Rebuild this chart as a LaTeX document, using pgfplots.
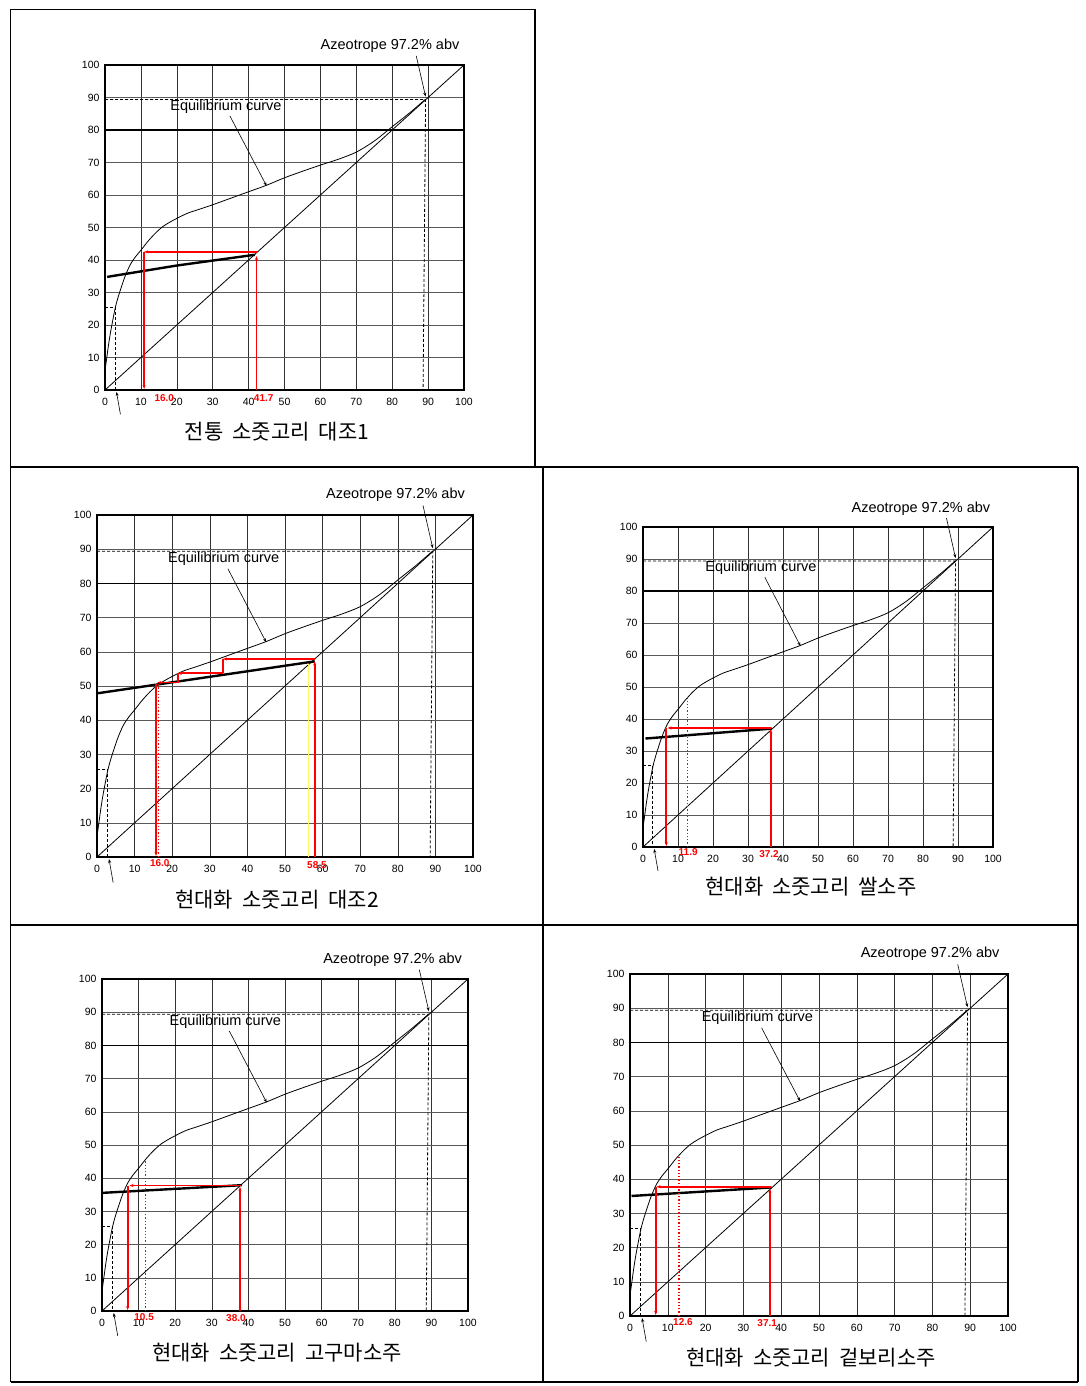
\documentclass[border=0pt]{standalone}
\usepackage{pgfplots}
\pgfplotsset{compat=1.18}
\usetikzlibrary{arrows.meta}
\usepackage{fontspec}
\setmainfont{Liberation Sans}
\newfontfamily\kr{Noto Sans CJK KR}

\tikzset{
  redl/.style={red, line width=1.8pt},
  redd/.style={red, line width=1.3pt, dotted},
  arr/.style={-{Stealth[length=4pt,width=3pt]}},
}
\pgfplotsset{
  mccabe/.style={
    scale only axis, anchor=south west,
    xmin=0, xmax=100, ymin=0, ymax=100,
    xtick={0,10,...,100}, ytick={0,10,...,100},
    xmajorgrids, ymajorgrids,
    x grid style={black!80, line width=0.6pt},
    y grid style={black!65, line width=0.6pt},
    axis line style={black, line width=1.1pt},
    major tick length=0pt,
    tick label style={font=\fontsize{10.5}{11}\selectfont, text=black},
    /pgf/number format/assume math mode=true,
    xticklabel style={yshift=-4.5pt},
    yticklabel style={xshift=-2pt},
    clip=false,
  },
}

\newcommand{\commonplots}{%
  \addplot[black, line width=1.2pt] coordinates {(0,80) (100,80)};
  \addplot[black, line width=1.4pt] coordinates {(0,100) (100,100)};
  \addplot[black, line width=0.8pt, smooth] coordinates {
    (0,6) (0.5,10) (1,14) (1.5,17.5) (2,20.5) (2.8,25) (3.5,28) (4.5,31.5)
    (5.6,35) (7,38.5) (8.5,41) (10,43) (12,45.8) (14,48.2) (16,50.2)
    (18,51.6) (20,52.8) (23,54.4) (26,55.5) (30,57) (35,59) (40,61)
    (45,63) (50,65.3) (55,67.3) (60,69.2) (65,71) (70,73.2) (75,76.6)
    (80,81) (85,85.4) (89.3,89.5)};
  \addplot[black, line width=0.8pt] coordinates {(0,0) (100,100)};
  \addplot[black, line width=0.8pt, densely dashed] coordinates {(0,89.4) (89.3,89.4) (88.6,0)};
  \addplot[black, line width=0.8pt, densely dashed] coordinates {(0,25.5) (2.8,25.5) (2.8,0)};
  \node[font=\fontsize{14.5}{16}\selectfont] at (axis cs:79.4,105.8) {Azeotrope 97.2\% abv};
  \draw[black, line width=0.6pt, arr] (axis cs:86.7,102.8) -- (axis cs:89.3,90.3);
  \node[font=\fontsize{14.5}{16}\selectfont] at (axis cs:33.7,87.2) {Equilibrium curve};
  \draw[black, line width=0.6pt, arr] (axis cs:34.8,84.3) -- (axis cs:45,62.8);
  \draw[black, line width=0.6pt, arr] (axis cs:4.3,-7.5) -- (axis cs:3.2,-0.6);
}

\newcommand{\redlabel}[3]{\node[text=red, font=\bfseries\fontsize{10}{11}\selectfont] at (axis cs:#1,#2) {#3};}

\begin{document}
\begin{tikzpicture}
\path[use as bounding box] (0pt,0pt) rectangle (1086pt,-1386pt);

% table frame
\begin{scope}[line width=1.3pt, black]
\draw (10.7pt,-9.5pt) -- (535pt,-9.5pt);
\draw (535pt,-9.5pt) -- (535pt,-467pt);
\draw (10.7pt,-9.5pt) -- (10.7pt,-1382pt);
\draw (10.7pt,-467pt) -- (1078pt,-467pt);
\draw (1078pt,-467pt) -- (1078pt,-1382pt);
\draw (10.7pt,-925pt) -- (1078pt,-925pt);
\draw (10.7pt,-1382pt) -- (1078pt,-1382pt);
\draw (543pt,-467pt) -- (543pt,-1382pt);
\end{scope}

% ---------- Chart 1 ----------
\begin{axis}[mccabe, at={(105pt,-390pt)}, width=359pt, height=325pt]
\commonplots
\addplot[black, line width=2.4pt] coordinates {(0.6,34.8) (20,38.3) (41.7,41.6)};
\addplot[redl, arr] coordinates {(42.2,0) (42.2,41.2)};
\addplot[redl, arr] coordinates {(42.2,42.5) (10.9,42.5)};
\addplot[redl, arr] coordinates {(10.9,42.5) (10.9,0.3)};
\redlabel{16.5}{-2.6}{16.0}
\redlabel{44.2}{-2.6}{41.7}
\end{axis}

% ---------- Chart 2 ----------
\begin{axis}[mccabe, at={(97pt,-857pt)}, width=376pt, height=342pt]
\commonplots
\addplot[yellow!60, line width=0.8pt] coordinates {(56.1,0) (56.1,57)};
\addplot[black, line width=2.4pt] coordinates {(0.3,47.9) (57.9,57.2)};
\addplot[redl, arr] coordinates {(57.9,0) (57.9,57.2)};
\addplot[redl, arr] coordinates {(57.9,57.9) (33.5,57.9)};
\addplot[redl] coordinates {(33.5,57.9) (33.5,53.7)};
\addplot[redl, arr] coordinates {(33.5,53.7) (21.5,53.7)};
\addplot[redl] coordinates {(21.5,53.7) (21.5,51)};
\addplot[redl, arr] coordinates {(21.5,51) (16,51)};
\addplot[redl, arr] coordinates {(15.7,50.6) (15.7,0.3)};
\addplot[redd] coordinates {(16.4,50.6) (16.4,0.3)};
\redlabel{16.7}{-1.9}{16.0}
\redlabel{58.5}{-2.4}{58.5}
\end{axis}

% ---------- Chart 3 ----------
\begin{axis}[mccabe, at={(643pt,-847pt)}, width=350pt, height=320pt]
\commonplots
\addplot[black, line width=2.4pt] coordinates {(0.7,33.9) (36.8,37.0)};
\addplot[redl, arr] coordinates {(36.5,0) (36.5,36.8)};
\addplot[redl, arr] coordinates {(36.5,37.2) (7.0,37.2)};
\addplot[redl, arr] coordinates {(6.65,37.2) (6.65,0.3)};
\addplot[redd] coordinates {(12.8,0) (12.8,46.8)};
\redlabel{12.9}{-1.6}{11.9}
\redlabel{36.0}{-2.1}{37.2}
\end{axis}

% ---------- Chart 4 ----------
\begin{axis}[mccabe, at={(102pt,-1311pt)}, width=366pt, height=332pt]
\commonplots
\addplot[black, line width=2.4pt] coordinates {(0.3,35.6) (38.2,37.9)};
\addplot[redl, arr] coordinates {(37.7,0) (37.7,37.4)};
\addplot[redl, arr] coordinates {(38.0,37.8) (7.5,37.8)};
\addplot[redl, arr] coordinates {(7.0,37.8) (7.0,0.3)};
\addplot[redd] coordinates {(11.8,0) (11.8,45.5)};
\redlabel{11.5}{-1.7}{10.5}
\redlabel{36.6}{-2.2}{38.0}
\end{axis}

% ---------- Chart 5 ----------
\begin{axis}[mccabe, at={(630pt,-1316pt)}, width=378pt, height=342pt]
\commonplots
\addplot[black, line width=2.4pt] coordinates {(0.4,35.1) (37.4,37.6)};
\addplot[redl, arr] coordinates {(37.0,0) (37.0,37.3)};
\addplot[redl, arr] coordinates {(37.2,37.8) (7.0,37.8)};
\addplot[redl, arr] coordinates {(6.8,37.8) (6.8,0.3)};
\addplot[redd] coordinates {(13.0,0) (13.0,46.6)};
\redlabel{14.0}{-1.7}{12.6}
\redlabel{36.3}{-2.1}{37.1}
\end{axis}

% captions
\begin{scope}[every node/.style={font=\kr\fontsize{21}{24}\selectfont}]
\node at (277pt,-432pt) {전통\hspace{9pt}소줏고리\hspace{9pt}대조1};
\node at (277pt,-900pt) {현대화\hspace{9pt}소줏고리\hspace{9pt}대조2};
\node at (811pt,-887pt) {현대화\hspace{9pt}소줏고리\hspace{9pt}쌀소주};
\node at (277pt,-1353pt) {현대화\hspace{9pt}소줏고리\hspace{9pt}고구마소주};
\node at (811pt,-1358pt) {현대화\hspace{9pt}소줏고리\hspace{9pt}겉보리소주};
\end{scope}
\end{tikzpicture}
\end{document}
